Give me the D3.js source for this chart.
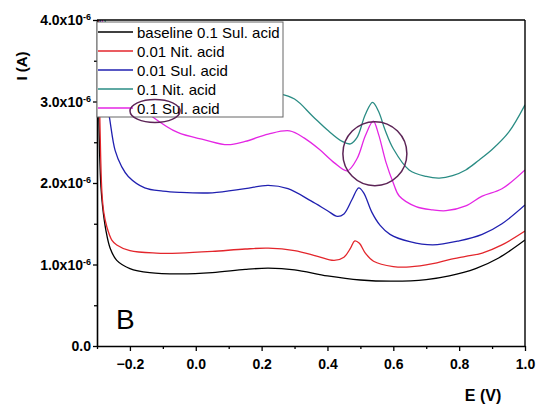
<!DOCTYPE html>
<html lang="en">
<head>
<meta charset="utf-8">
<script src="https://d3js.org/d3.v7.min.js"></script>
<style>
  body { margin: 0; background: #fff; }
  text { font-family: "Liberation Sans", Arial, sans-serif; }
</style>
</head>
<body>
<svg id="chart" width="544" height="413"></svg>
<script>
// E (V) and I (x1e-6 A)
const baseline = [[-0.299,4.3],[-0.296,3.1],[-0.292,2.35],[-0.288,1.95],[-0.283,1.71],[-0.273,1.42],[-0.26,1.2],[-0.24,1.05],[-0.2,0.95],[-0.14,0.9],[-0.05,0.885],[0.05,0.9],[0.15,0.94],[0.22,0.955],[0.3,0.935],[0.4,0.86],[0.5,0.81],[0.6,0.795],[0.7,0.815],[0.77,0.86],[0.85,0.95],[0.92,1.08],[1.0,1.3]];
const nit001 = [[-0.297,4.3],[-0.293,3.1],[-0.289,2.35],[-0.285,1.88],[-0.279,1.63],[-0.27,1.46],[-0.255,1.3],[-0.24,1.24],[-0.2,1.17],[-0.12,1.14],[-0.05,1.14],[0.05,1.16],[0.15,1.19],[0.22,1.2],[0.3,1.17],[0.37,1.1],[0.42,1.05],[0.45,1.09],[0.47,1.2],[0.483,1.29],[0.497,1.26],[0.515,1.14],[0.54,1.04],[0.6,0.975],[0.65,0.97],[0.72,1.01],[0.77,1.06],[0.82,1.1],[0.87,1.14],[0.93,1.24],[1.0,1.41]];
const sul001 = [[-0.293,4.3],[-0.286,3.6],[-0.276,3.15],[-0.262,2.8],[-0.245,2.4],[-0.225,2.2],[-0.205,2.08],[-0.155,1.94],[-0.1,1.9],[-0.05,1.885],[0.05,1.88],[0.15,1.93],[0.22,1.97],[0.28,1.93],[0.35,1.78],[0.4,1.66],[0.43,1.59],[0.45,1.62],[0.475,1.8],[0.495,1.94],[0.51,1.88],[0.535,1.64],[0.56,1.48],[0.59,1.37],[0.65,1.28],[0.72,1.24],[0.8,1.29],[0.87,1.37],[0.93,1.5],[1.0,1.73]];
const nit01 = [[-0.29,4.3],[-0.25,3.7],[-0.15,3.35],[0.0,3.2],[0.15,3.15],[0.25,3.1],[0.3,3.03],[0.355,2.82],[0.4,2.65],[0.445,2.51],[0.47,2.48],[0.49,2.56],[0.515,2.84],[0.537,2.99],[0.555,2.88],[0.575,2.65],[0.6,2.42],[0.648,2.16],[0.7,2.08],[0.74,2.06],[0.78,2.09],[0.82,2.16],[0.86,2.28],[0.9,2.41],[0.95,2.62],[1.0,2.96]];
const sul01 = [[-0.29,4.3],[-0.27,3.6],[-0.24,3.25],[-0.2,3.05],[-0.134,2.82],[-0.055,2.62],[0.027,2.53],[0.097,2.47],[0.15,2.51],[0.22,2.6],[0.285,2.64],[0.33,2.55],[0.376,2.41],[0.42,2.25],[0.46,2.15],[0.49,2.3],[0.515,2.58],[0.539,2.76],[0.555,2.6],[0.578,2.25],[0.6,2.0],[0.618,1.84],[0.669,1.71],[0.72,1.67],[0.76,1.66],[0.82,1.72],[0.87,1.84],[0.93,1.93],[1.0,2.16]];

const seriesNames = ["baseline 0.1 Sul. acid", "0.01 Nit. acid", "0.01 Sul. acid", "0.1 Nit. acid", "0.1 Sul. acid"];
const seriesData = [baseline, nit001, sul001, nit01, sul01];
const seriesColors = ["#000000", "#e3262c", "#2020b0", "#2a8c84", "#e426e4"];

const xTicks = [-0.2, 0.0, 0.2, 0.4, 0.6, 0.8, 1.0];
const yTicks = [0, 1, 2, 3, 4];

const svg = d3.select("#chart");
const x = d3.scaleLinear().domain([-0.3, 1.0]).range([97, 525]);
const y = d3.scaleLinear().domain([0, 4]).range([346, 20]);

svg.append("clipPath").attr("id", "plot")
  .append("rect").attr("x", 97).attr("y", 20).attr("width", 428).attr("height", 326);

const line = d3.line().x(d => x(d[0])).y(d => y(d[1])).curve(d3.curveCatmullRom.alpha(0.5));

const curves = svg.append("g").attr("clip-path", "url(#plot)");
seriesData.forEach((s, i) => {
  curves.append("path").attr("d", line(s)).attr("fill", "none")
    .attr("stroke", seriesColors[i]).attr("stroke-width", 1.3);
});

// axes
const xAxis = svg.append("g").attr("transform", "translate(0,346)")
  .call(d3.axisBottom(x).tickValues(xTicks).tickFormat(d3.format(".1f")).tickSize(5).tickSizeOuter(0));
svg.append("g").attr("transform", "translate(0,346)")
  .call(d3.axisBottom(x).tickValues(d3.range(-0.3, 1.01, 0.2).map(v => +v.toFixed(1))).tickFormat("").tickSize(3).tickSizeOuter(0))
  .select(".domain").remove();

const yAxis = svg.append("g").attr("transform", "translate(97,0)")
  .call(d3.axisLeft(y).tickValues(yTicks).tickFormat("").tickSize(4).tickSizeOuter(0));
svg.append("g").attr("transform", "translate(97,0)")
  .call(d3.axisLeft(y).tickValues([0.5, 1.5, 2.5, 3.5]).tickFormat("").tickSize(3).tickSizeOuter(0))
  .select(".domain").remove();

svg.selectAll(".domain").attr("stroke-width", 1.6);
svg.selectAll(".tick line").attr("stroke-width", 1.3);

xAxis.selectAll("text").attr("font-size", 14).attr("font-weight", "bold")
  .attr("font-family", "Liberation Sans, Arial, sans-serif").attr("dy", "1.05em");

// y tick labels with superscript exponents
yAxis.selectAll(".tick").each(function(d) {
  const t = d3.select(this).append("text").attr("x", -6).attr("dy", "0.35em")
    .attr("text-anchor", "end").attr("fill", "#000")
    .attr("font-size", 14).attr("font-weight", "bold");
  if (d === 0) { t.text("0.0"); return; }
  t.append("tspan").text(d.toFixed(1) + "x10");
  t.append("tspan").attr("font-size", 9).attr("dy", "-0.55em").text("-6");
});

// frame top and right
svg.append("line").attr("x1", 97).attr("x2", 525).attr("y1", 20).attr("y2", 20)
  .attr("stroke", "#000").attr("stroke-width", 1.6);
svg.append("line").attr("x1", 525).attr("x2", 525).attr("y1", 20).attr("y2", 346)
  .attr("stroke", "#000").attr("stroke-width", 1.4);

// axis titles
svg.append("text").attr("transform", "translate(27,66) rotate(-90)")
  .attr("text-anchor", "middle").attr("font-size", 15).attr("font-weight", "bold").text("I (A)");
svg.append("text").attr("x", 483).attr("y", 401).attr("text-anchor", "middle")
  .attr("font-size", 16).attr("font-weight", "bold").text("E (V)");
svg.append("text").attr("x", 116).attr("y", 329).attr("font-size", 28).text("B");

// legend
const lg = svg.append("g").attr("transform", "translate(97,22)");
lg.append("rect").attr("width", 186).attr("height", 95).attr("fill", "#fff")
  .attr("stroke", "#666").attr("stroke-width", 1);
seriesNames.forEach((n, i) => {
  const yy = 10 + i * 19;
  lg.append("line").attr("x1", 1).attr("x2", 36).attr("y1", yy).attr("y2", yy)
    .attr("stroke", seriesColors[i]).attr("stroke-width", 1.3);
  lg.append("text").attr("x", 40).attr("y", yy + 5.5).attr("font-size", 15).text(n);
});

// annotation rings
const ring = "#5c2456";
svg.append("ellipse").attr("cx", 155).attr("cy", 111).attr("rx", 25).attr("ry", 11.5)
  .attr("fill", "none").attr("stroke", ring).attr("stroke-width", 1.5);
svg.append("circle").attr("cx", x(0.544)).attr("cy", y(2.36)).attr("r", 32)
  .attr("fill", "none").attr("stroke", ring).attr("stroke-width", 1.5);
</script>
</body>
</html>
